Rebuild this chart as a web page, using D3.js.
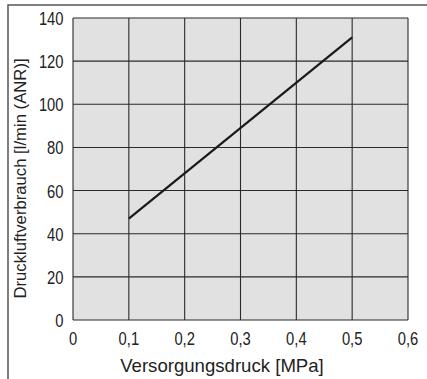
<!DOCTYPE html>
<html>
<head>
<meta charset="utf-8">
<script src="https://cdn.jsdelivr.net/npm/d3@7"></script>
<style>
  body { margin: 0; background: #fff; }
  svg { display: block; font-family: "Liberation Sans", Arial, sans-serif; }
</style>
</head>
<body>
<div id="chart"></div>
<script>
// Druckluftverbrauch vs Versorgungsdruck
const pressure = [0.1, 0.5];          // MPa
const consumption = [47, 131];        // l/min (ANR)
const xTicks = [0, 0.1, 0.2, 0.3, 0.4, 0.5, 0.6];
const yTicks = [0, 20, 40, 60, 80, 100, 120, 140];

const width = 427;
const height = 379;
const margin = { top: 18, right: 19, bottom: 59, left: 73 };

const svg = d3.select("#chart").append("svg")
    .attr("width", width)
    .attr("height", height);

// outer frame (top + left only)
svg.append("path")
    .attr("d", `M8,${height} L8,5 L${width},5`)
    .attr("fill", "none")
    .attr("stroke", "#555")
    .attr("stroke-width", 1.5);

const x = d3.scaleLinear()
    .domain([0, 0.6])
    .range([margin.left, width - margin.right]);

const y = d3.scaleLinear()
    .domain([0, 140])
    .range([height - margin.bottom, margin.top]);

// plot background
svg.append("rect")
    .attr("x", x(0))
    .attr("y", y(140))
    .attr("width", x(0.6) - x(0))
    .attr("height", y(0) - y(140))
    .attr("fill", "#e1e1e1");

// grid
svg.append("g")
    .selectAll("line")
    .data(xTicks)
    .join("line")
    .attr("x1", d => x(d))
    .attr("x2", d => x(d))
    .attr("y1", y(0))
    .attr("y2", y(140))
    .attr("stroke", "#2a2a2a")
    .attr("stroke-width", 1.1);

svg.append("g")
    .selectAll("line")
    .data(yTicks)
    .join("line")
    .attr("x1", x(0))
    .attr("x2", x(0.6))
    .attr("y1", d => y(d))
    .attr("y2", d => y(d))
    .attr("stroke", "#2a2a2a")
    .attr("stroke-width", 1.1);

// tick labels (narrow look: squeeze horizontally)
const squeeze = 0.82;

svg.append("g")
    .selectAll("text")
    .data(yTicks)
    .join("text")
    .attr("transform", d => `translate(${x(0) - 9.5},${y(d) + 7}) scale(${squeeze},1)`)
    .attr("text-anchor", "end")
    .style("font-size", "18px")
    .attr("fill", "#222")
    .text(d => d);

svg.append("g")
    .selectAll("text")
    .data(xTicks)
    .join("text")
    .attr("transform", d => `translate(${x(d)},${y(0) + 25}) scale(${squeeze},1)`)
    .attr("text-anchor", "middle")
    .style("font-size", "18px")
    .attr("fill", "#222")
    .text(d => d === 0 ? "0" : d3.format(".1f")(d).replace(".", ","));

// line
const line = d3.line()
    .x((d, i) => x(pressure[i]))
    .y(d => y(d));

svg.append("path")
    .datum(consumption)
    .attr("d", line)
    .attr("fill", "none")
    .attr("stroke", "#1a1a1a")
    .attr("stroke-width", 2.2);

// axis titles
svg.append("text")
    .attr("x", 222)
    .attr("y", 372)
    .attr("text-anchor", "middle")
    .style("font-size", "18.6px")
    .attr("fill", "#222")
    .text("Versorgungsdruck [MPa]");

svg.append("text")
    .attr("transform", "rotate(-90)")
    .attr("x", -178.5)
    .attr("y", 26)
    .attr("text-anchor", "middle")
    .style("font-size", "16.7px")
    .attr("fill", "#222")
    .text("Druckluftverbrauch [l/min (ANR)]");
</script>
</body>
</html>
